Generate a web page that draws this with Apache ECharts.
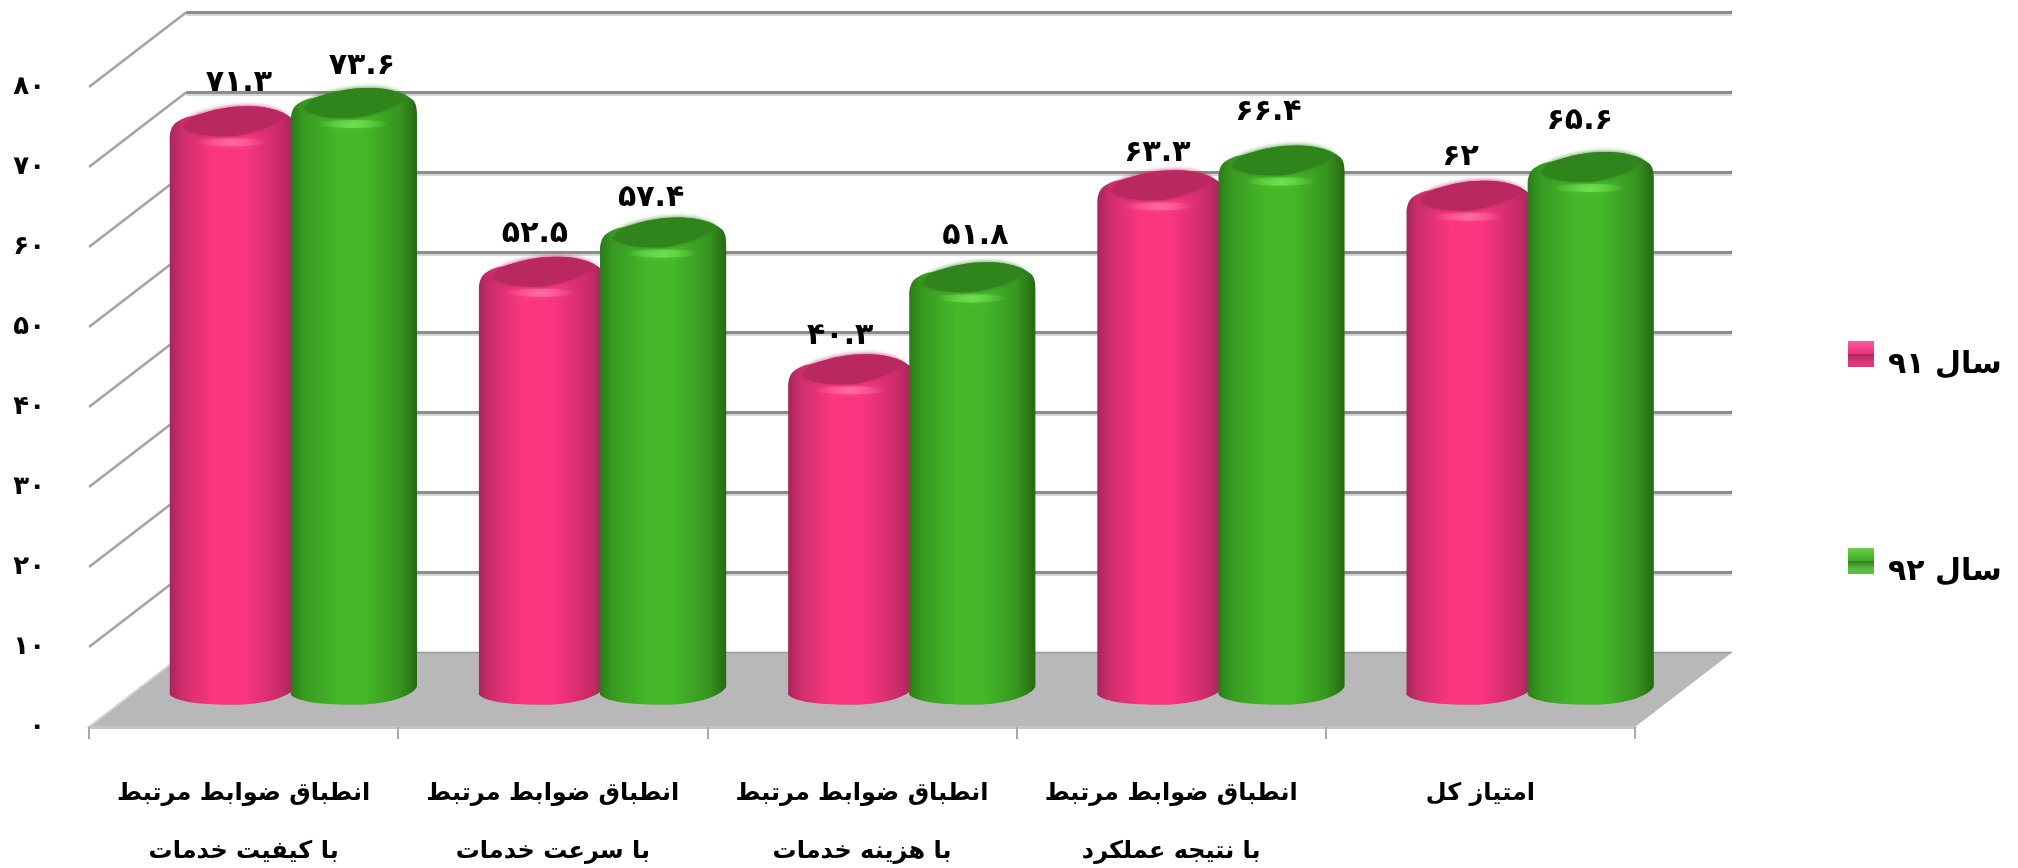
<!DOCTYPE html>
<html>
<head>
<meta charset="utf-8">
<style>html,body{margin:0;padding:0;background:#fff}#c{width:2018px;height:868px}</style>
<script src="https://cdn.jsdelivr.net/npm/echarts@6/dist/echarts.min.js"></script>
</head>
<body>
<div id="c"></div>
<script>
const categories = [
  'انطباق ضوابط مرتبط\nبا کیفیت خدمات',
  'انطباق ضوابط مرتبط\nبا سرعت خدمات',
  'انطباق ضوابط مرتبط\nبا هزینه خدمات',
  'انطباق ضوابط مرتبط\nبا نتیجه عملکرد',
  'امتیاز کل'
];
const seriesNames = ['سال ۹۱', 'سال ۹۲'];
const year91 = [71.3, 52.5, 40.3, 63.3, 62];
const year92 = [73.6, 57.4, 51.8, 66.4, 65.6];
const yTicks = [0, 10, 20, 30, 40, 50, 60, 70, 80];

// the reference's value labels were placed by hand: small nudges from the default spot
const lift91 = [-2, -2, -7, -8, -1];
const lift92 = [-3, -6, 1, 8, 6];
const shift91 = [0, -13, -17, -9, -15];
const shift92 = [2, -18, -3, -19, -17];

const FONT = '"DejaVu Sans"';
const DX = 97, DY = -74.5;
const fa = v => String(v).replace(/\d/g, d => '۰۱۲۳۴۵۶۷۸۹'[d]);

const G = echarts.graphic;
const grad = stops => new G.LinearGradient(0, 0, 1, 0, stops.map(c => ({offset: c[0], color: c[1]})));
const palettes = [
  {body: grad([[0,'#a5265a'],[0.1,'#cf2e6c'],[0.35,'#fb367f'],[0.6,'#f8357e'],[0.88,'#c82b68'],[1,'#a02456']]),
   cap: '#b9285f', glow: 'rgba(255,120,170,0.7)', glow0: 'rgba(255,120,170,0)', legend: [['#ff5c9b','#e8307a'],['#a8265a','#e0347a']]},
  {body: grad([[0,'#2c7a18'],[0.1,'#379a20'],[0.38,'#45b82a'],[0.58,'#45b82a'],[0.86,'#37951f'],[1,'#276814']]),
   cap: '#2f851b', glow: 'rgba(115,230,85,0.8)', glow0: 'rgba(115,230,85,0)', legend: [['#66d348','#3fa627'],['#2f7f1c','#5cbb44']]}
];

function cylinder(k, labels, lifts, shifts) {
  return function (params, api) {
    const i = api.value(0), v = api.value(1);
    const band = api.size([1, 0])[0];
    const w = band * 0.408;
    const topPt = api.coord([i, v]);
    const basePt = api.coord([i, 0]);
    const gc = topPt[0] + DX / 2;
    const cx = gc + (k === 0 ? -0.47 : 0.49) * w;
    const l = cx - w / 2, r = cx + w / 2;
    const cy = topPt[1] + DY / 2;
    const y0 = basePt[1] + DY / 2;
    const u = w / 126;
    const X = a => l + a * u;
    const body = [
      `M${l} ${cy + 17}`,
      `C${X(1)} ${cy + 8} ${X(4)} ${cy + 4} ${X(10)} ${cy + 1}`,
      `C${X(16)} ${cy - 3} ${X(24)} ${cy - 3} ${X(30)} ${cy - 5}`,
      `C${X(46)} ${cy - 10} ${X(60)} ${cy - 13} ${X(76)} ${cy - 13}`,
      `C${X(96)} ${cy - 13} ${X(112)} ${cy - 10} ${X(122)} ${cy - 1}`,
      `C${X(125)} ${cy + 2} ${r} ${cy + 7} ${r} ${cy + 14}`,
      `L${r} ${y0 - 3}`,
      `C${X(120)} ${y0 + 8} ${X(92)} ${y0 + 15} ${X(64)} ${y0 + 15}`,
      `C${X(36)} ${y0 + 15} ${X(8)} ${y0 + 13} ${l} ${y0 + 5}Z`
    ].join(' ');
    const cap = [
      `M${X(15)} ${cy + 8}`,
      `C${X(18)} ${cy + 1} ${X(24)} ${cy - 3} ${X(30)} ${cy - 5}`,
      `C${X(46)} ${cy - 10} ${X(60)} ${cy - 13} ${X(76)} ${cy - 13}`,
      `C${X(92)} ${cy - 13} ${X(104)} ${cy - 11} ${X(113)} ${cy - 4}`,
      `C${X(106)} ${cy + 5} ${X(84)} ${cy + 13} ${X(64)} ${cy + 16}`,
      `C${X(44)} ${cy + 17} ${X(25)} ${cy + 15} ${X(15)} ${cy + 8}Z`
    ].join(' ');
    const p = palettes[k];
    return {
      type: 'group',
      children: [
        {type: 'path', shape: {pathData: body, layout: 'cover', x: l, y: cy - 13, width: w, height: y0 + 15 - cy + 13},
         style: {fill: p.body}},
        {type: 'ellipse', shape: {cx: X(62), cy: cy + 23, rx: 36 * u, ry: 4},
         style: {fill: new G.LinearGradient(0, 0, 1, 0, [{offset: 0, color: p.glow0}, {offset: 0.5, color: p.glow}, {offset: 1, color: p.glow0}]),
                 shadowBlur: 5, shadowColor: p.glow0.replace(',0)', ',0.5)')}},
        {type: 'path', shape: {pathData: cap, layout: 'cover', x: X(13), y: cy - 13, width: 102 * u, height: 30},
         style: {fill: p.cap, shadowBlur: 5, shadowColor: p.cap}},
        {type: 'text', style: {text: labels[i], x: cx + 6 + shifts[i], y: cy - 38 - lifts[i],
          font: 'bold 30px ' + FONT, fill: '#000', align: 'center', verticalAlign: 'middle'}}
      ]
    };
  };
}

const option = {
  animation: false,
  backgroundColor: '#fff',
  textStyle: {fontFamily: FONT},
  legend: {
    orient: 'vertical', left: 1848, top: 328, padding: 0, itemWidth: 26, itemHeight: 26, itemGap: 155, align: 'left',
    formatter: name => '\n' + name,
    data: seriesNames.map((n, k) => ({name: n, icon: 'rect', itemStyle: {
      color: new G.LinearGradient(0, 0, 0, 1, [
        {offset: 0, color: palettes[k].legend[0][0]},
        {offset: 0.5, color: palettes[k].legend[0][1]},
        {offset: 0.5, color: palettes[k].legend[1][0]},
        {offset: 0.8, color: palettes[k].legend[1][1]},
        {offset: 1, color: palettes[k].legend[1][1]}
      ])}})),
    textStyle: {fontFamily: FONT, fontWeight: 'bold', fontSize: 30, lineHeight: 22, color: '#000', padding: [0, 0, 0, 9]}
  },
  grid: {left: 89, right: 383, top: 87, bottom: 141, containLabel: false, outerBoundsMode: 'none'},
  xAxis: {
    type: 'category', data: categories, boundaryGap: true, z: 5,
    axisLine: {show: true, lineStyle: {color: '#c4c4c4', width: 3}},
    axisTick: {show: true, length: 12, lineStyle: {color: '#aaaaaa', width: 2}},
    axisLabel: {interval: 0, color: '#000', fontFamily: FONT, fontWeight: 'bold', fontSize: 24, lineHeight: 58, margin: 38, verticalAlign: 'top'}
  },
  yAxis: {
    type: 'value', min: 0, max: 80, interval: 10,
    splitLine: {show: false}, axisLine: {show: false}, axisTick: {show: false},
    axisLabel: {margin: 44, color: '#000', fontFamily: FONT, fontWeight: 'bold', fontSize: 26, formatter: v => fa(v)}
  },
  series: [
    {
      name: 'walls', type: 'custom', z: 1, silent: true, data: yTicks.map(v => [0, v]),
      encode: {x: 0, y: 1},
      renderItem(params, api) {
        const v = api.value(1);
        const y = api.coord([0, v])[1];
        const rect = params.coordSys;
        const l = rect.x, r = rect.x + rect.width;
        const children = [];
        if (v === 0) {
          children.push({type: 'polygon', shape: {points: [[l, y], [l + DX, y + DY], [r + DX, y + DY], [r, y]]},
            style: {fill: '#b8b8b8'}});
          children.push({type: 'line', shape: {x1: l + DX, y1: y + DY, x2: r + DX, y2: y + DY},
            style: {stroke: '#9a9a9a', lineWidth: 1.5}});
          children.push({type: 'line', shape: {x1: l, y1: y, x2: l + DX, y2: y + DY},
            style: {stroke: '#d0d0d0', lineWidth: 2}});
        } else {
          children.push({type: 'line', shape: {x1: l + DX, y1: y + DY + 2.5, x2: r + DX, y2: y + DY + 2.5},
            style: {stroke: '#c8c8c8', lineWidth: 1.5}});
          children.push({type: 'line', shape: {x1: l + DX, y1: y + DY, x2: r + DX, y2: y + DY},
            style: {stroke: '#8c8c8c', lineWidth: 3}});
          children.push({type: 'line', shape: {x1: l, y1: y, x2: l + DX, y2: y + DY},
            style: {stroke: '#a3a3a3', lineWidth: 2.5}});
        }
        return {type: 'group', children};
      }
    },
    {name: seriesNames[0], type: 'custom', z: 3, data: year91.map((v, i) => [i, v]), encode: {x: 0, y: 1},
     itemStyle: {color: '#f5347f'}, renderItem: cylinder(0, year91.map(fa), lift91, shift91)},
    {name: seriesNames[1], type: 'custom', z: 4, data: year92.map((v, i) => [i, v]), encode: {x: 0, y: 1},
     itemStyle: {color: '#45b82a'}, renderItem: cylinder(1, year92.map(fa), lift92, shift92)}
  ]
};
echarts.init(document.getElementById('c'), null, {renderer: 'canvas'}).setOption(option);
</script>
</body>
</html>
